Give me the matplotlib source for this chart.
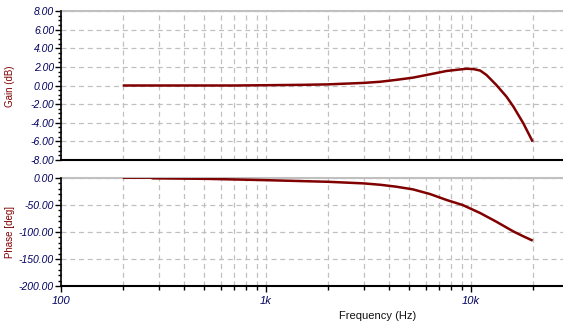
import numpy as np
import matplotlib.pyplot as plt
from matplotlib.ticker import LogLocator, MultipleLocator, FixedLocator, FixedFormatter, NullFormatter

plt.rcParams['font.family'] = ['Liberation Sans', 'DejaVu Sans']

# values
freq_gain = [200, 300, 500, 700, 1000, 1500, 2000, 3000, 3600, 4300, 5200, 6300,
             7600, 9500, 10300, 11100, 11900, 13300, 14900, 16100, 18000, 20000]
gain_db = [0.0, 0.0, 0.0, 0.0, 0.03, 0.07, 0.12, 0.28, 0.4, 0.6, 0.84, 1.2,
           1.56, 1.8, 1.76, 1.6, 1.13, 0.05, -1.2, -2.27, -4.06, -6.04]

freq_phase = [200, 275, 280, 500, 1000, 2000, 3000, 3600, 4300, 5200, 6300, 7600,
              9100, 11100, 13300, 16100, 18000, 20000]
phase_deg = [0.6, 0.6, -0.6, -1.5, -4, -7, -10, -12.5, -16, -21, -29.6, -40.7,
             -50, -65, -81, -99, -108, -116]

xticks = [100, 1000, 10000]
xticklabels = ['100', '1k', '10k']

line_c = '#800000'
tick_c = '#000060'
grid_c = '#c0c0c0'
W, H = 563, 332

fig = plt.figure(figsize=(W / 100, H / 100), dpi=100)
ax1 = fig.add_axes([61 / W, 1 - 160 / H, 1 - 61 / W, (160 - 11) / H])
ax2 = fig.add_axes([61 / W, 1 - 286 / H, 1 - 61 / W, (286 - 178) / H])

xmax = 10 ** (2 + (W - 61) / 205)

for ax in (ax1, ax2):
    ax.set_xscale('log')
    ax.set_xlim(100, xmax)
    ax.xaxis.set_major_locator(FixedLocator(xticks))
    ax.xaxis.set_minor_locator(LogLocator(base=10, subs=np.arange(2, 10)))
    ax.xaxis.set_minor_formatter(NullFormatter())
    ax.grid(True, which='both', axis='x', color=grid_c, ls=(0, (4, 3)), lw=0.9)
    ax.grid(True, which='major', axis='y', color=grid_c, ls=(0, (4, 3)), lw=0.9)
    for s in ('top', 'right'):
        ax.spines[s].set_visible(False)
    ax.spines['left'].set_linewidth(1.2)
    ax.spines['bottom'].set_linewidth(1.5)
    ax.tick_params(axis='y', which='major', length=4, width=1, pad=1,
                   labelsize=7.5, labelcolor=tick_c)
    ax.tick_params(axis='y', which='minor', length=2, width=1)
    ax.tick_params(axis='x', which='major', length=4, width=1, pad=3,
                   labelsize=8, labelcolor=tick_c)
    ax.tick_params(axis='x', which='minor', length=3, width=1)

# gain
ax1.plot(freq_gain, gain_db, color=line_c, lw=1.8, solid_capstyle='butt')
ax1.set_ylim(-8, 8)
ax1.yaxis.set_major_locator(MultipleLocator(2))
ax1.yaxis.set_minor_locator(MultipleLocator(0.5))
ax1.yaxis.set_major_formatter(lambda v, p: '{:.2f}'.format(v))
ax1.axhline(8, color=grid_c, lw=1.5, clip_on=False)
ax1.tick_params(axis='x', which='both', length=0, labelbottom=False)

# phase
ax2.plot(freq_phase, phase_deg, color=line_c, lw=1.8, solid_capstyle='butt')
ax2.set_ylim(-200, 0)
ax2.yaxis.set_major_locator(MultipleLocator(50))
ax2.yaxis.set_minor_locator(MultipleLocator(10))
ax2.yaxis.set_major_formatter(lambda v, p: '{:.2f}'.format(v))
ax2.axhline(0, color=grid_c, lw=1.5, zorder=1, clip_on=False)
ax2.xaxis.set_major_formatter(FixedFormatter(xticklabels))

for ax in (ax1, ax2):
    for lab in ax.get_yticklabels() + ax.get_xticklabels():
        lab.set_fontstyle('italic')

fig.text(10 / W, 1 - 86 / H, 'Gain (dB)', rotation=90, ha='center', va='center',
         fontsize=7, color=line_c)
fig.text(10 / W, 1 - 232 / H, 'Phase [deg]', rotation=90, ha='center', va='center',
         fontsize=7, color=line_c)
fig.text(378 / W, 1 - 316 / H, 'Frequency (Hz)', ha='center', va='center',
         fontsize=8, color='#101010')

fig.savefig('out.png', dpi=100)
